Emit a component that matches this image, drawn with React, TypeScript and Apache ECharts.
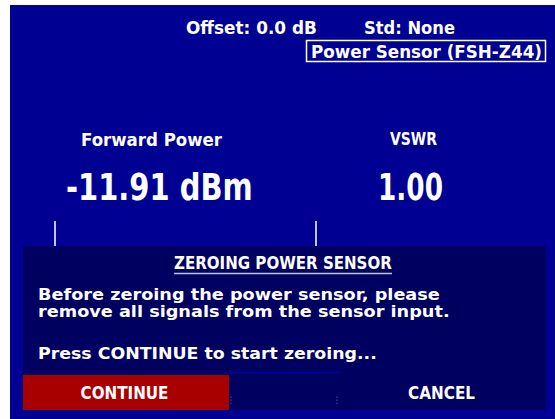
import React, { useEffect, useRef } from "react";
import * as echarts from "echarts";

const HEADER_ITEMS = ["Offset: 0.0 dB", "Std: None"];
const SENSOR_LABEL = "Power Sensor (FSH-Z44)";
const READING_LABELS = ["Forward Power", "VSWR"];
const READING_VALUES = ["-11.91 dBm", "1.00"];
const DIALOG_TITLE = "ZEROING POWER SENSOR";
const MESSAGE_LINES = [
  "Before zeroing the power sensor, please",
  "remove all signals from the sensor input.",
  "Press CONTINUE to start zeroing...",
];
const BUTTONS = ["CONTINUE", "CANCEL"];

const FONT_FAMILY = '"DejaVu Sans"';
let measureCtx: CanvasRenderingContext2D | null = null;
function measure(text: string, fs: number): number {
  if (!measureCtx) measureCtx = document.createElement("canvas").getContext("2d");
  if (!measureCtx) return text.length * fs * 0.6;
  measureCtx.font = `bold ${fs}px ${FONT_FAMILY}`;
  return measureCtx.measureText(text).width;
}

function fitText(text: string, x: number, cy: number, width: number, fs: number, align: "left" | "center" = "left", fill = "#ffffff") {
  const w = measure(text, fs);
  const sx = width / w;
  return {
    type: "text",
    x,
    y: cy,
    scaleX: sx,
    style: {
      text,
      fill,
      font: `bold ${fs}px ${FONT_FAMILY}`,
      fontFamily: "DejaVu Sans",
      fontWeight: "bold",
      fontSize: fs,
      align,
      verticalAlign: "middle",
      textAlign: align,
      textVerticalAlign: "middle",
    },
    silent: true,
  };
}

export default function App() {
  const ref = useRef<HTMLDivElement>(null);
  useEffect(() => {
    if (!ref.current) return;
    const chart = echarts.init(ref.current, undefined, { renderer: "svg" });
    const BLUE = "#000092";
    const DARK = "#000060";
    const RED = "#a80000";
    const LAV = "#c4c4ec";

    const elements: any[] = [
      { type: "rect", shape: { x: 10, y: 5, width: 545, height: 414 }, style: { fill: BLUE } },
      fitText(HEADER_ITEMS[0], 186, 28, 131, 17),
      fitText(HEADER_ITEMS[1], 364, 28, 91, 17),
      { type: "rect", shape: { x: 306.5, y: 40.5, width: 239, height: 21 }, style: { fill: "none", stroke: "#ffffff", lineWidth: 1.5 } },
      fitText(SENSOR_LABEL, 311, 51.5, 231, 17),
      fitText(READING_LABELS[0], 81, 139.5, 141, 17),
      fitText(READING_LABELS[1], 390, 139.5, 47, 17),
      fitText(READING_VALUES[0], 66, 187, 187, 38),
      fitText(READING_VALUES[1], 378, 187, 65, 38),
      { type: "line", shape: { x1: 55, y1: 221, x2: 55, y2: 246 }, style: { stroke: LAV, lineWidth: 2 } },
      { type: "line", shape: { x1: 316, y1: 221, x2: 316, y2: 246 }, style: { stroke: LAV, lineWidth: 2 } },
      { type: "rect", shape: { x: 23, y: 246, width: 523, height: 164 }, style: { fill: DARK } },
      fitText(DIALOG_TITLE, 174, 263, 218, 17),
      { type: "line", shape: { x1: 174, y1: 273.5, x2: 392, y2: 273.5 }, style: { stroke: LAV, lineWidth: 1.5 } },
      fitText(MESSAGE_LINES[0], 38, 294.5, 402, 16.5),
      fitText(MESSAGE_LINES[1], 38, 311, 412, 16.5),
      fitText(MESSAGE_LINES[2], 38, 353, 339, 16.5),
      { type: "line", shape: { x1: 229, y1: 372.5, x2: 340, y2: 372.5 }, style: { stroke: "#0000a4", lineWidth: 1.5 } },
      { type: "rect", shape: { x: 23, y: 375, width: 206, height: 35 }, style: { fill: RED } },
      fitText(BUTTONS[0], 124.5, 393, 88, 17, "center"),
      fitText(BUTTONS[1], 441.5, 393, 67, 17, "center"),
    ];
    [231, 337].forEach((dx) => {
      [397, 400, 403].forEach((dy) => {
        elements.push({ type: "rect", shape: { x: dx - 0.5, y: dy - 0.5, width: 1, height: 1.2 }, style: { fill: "#4a6a7a" } });
      });
    });

    chart.setOption({
      animation: false,
      backgroundColor: "#ffffff",
      graphic: { elements },
    });
    return () => chart.dispose();
  }, []);
  return (
    <div
      ref={ref}
      style={{ position: "fixed", left: 0, top: 0, width: 555, height: 419 }}
    />
  );
}
